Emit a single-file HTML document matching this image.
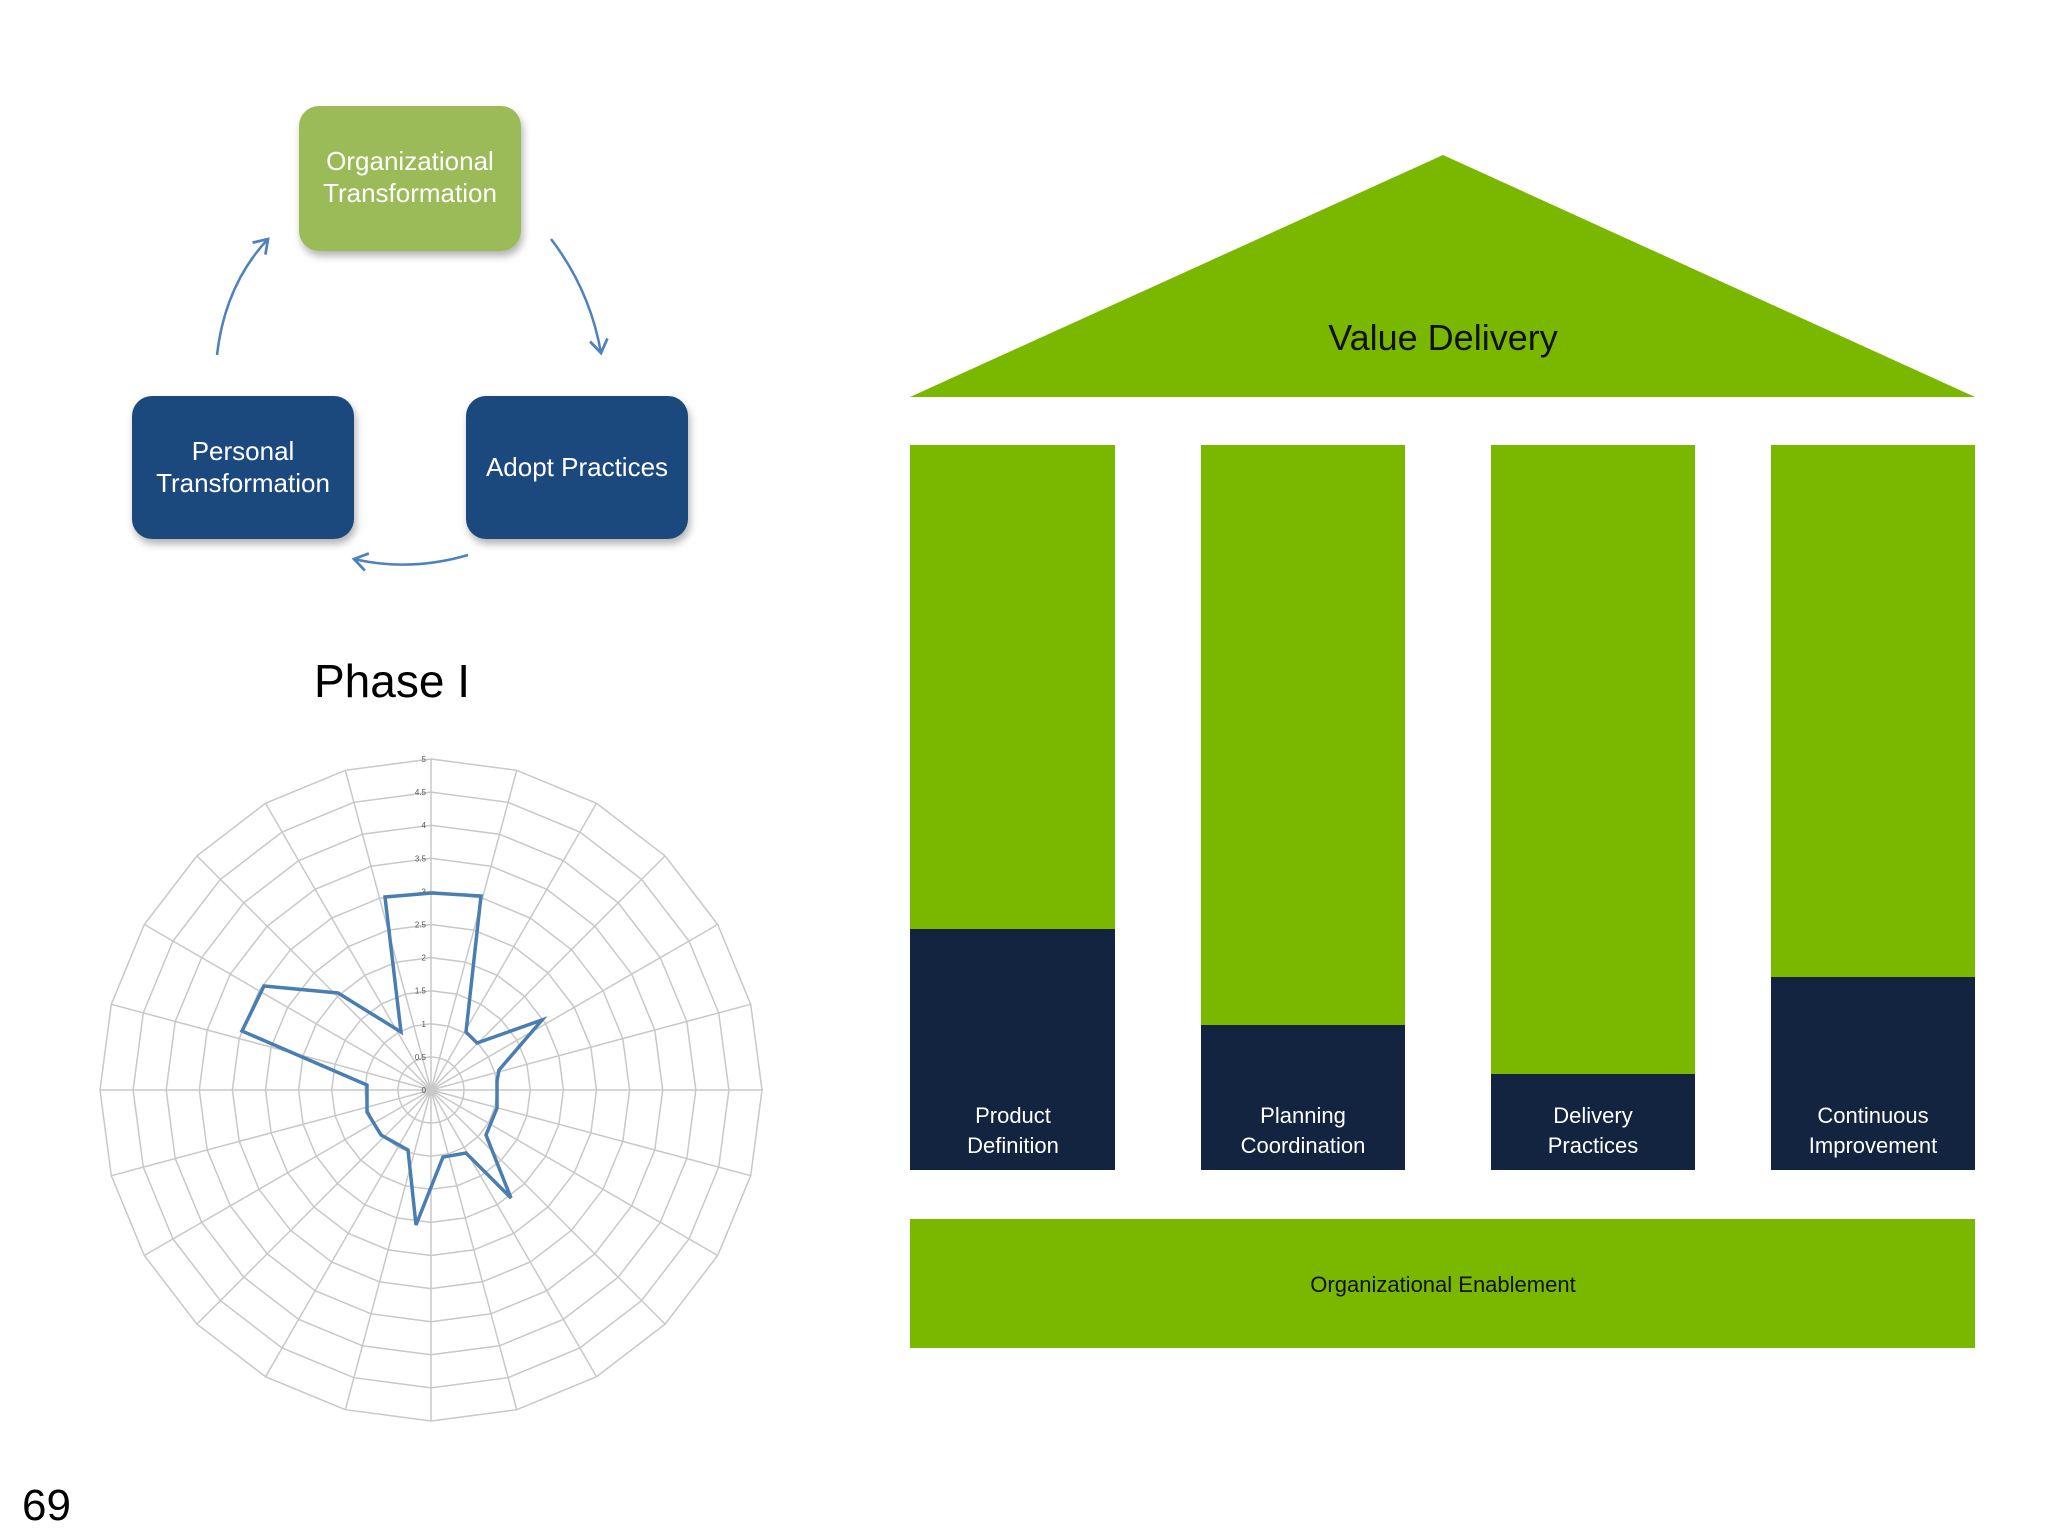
<!DOCTYPE html>
<html><head><meta charset="utf-8"><style>
html,body{margin:0;padding:0;background:#fff;}
body{width:2048px;height:1536px;position:relative;overflow:hidden;font-family:"Liberation Sans",sans-serif;}
</style></head><body>
<svg width="2048" height="1536" viewBox="0 0 2048 1536" xmlns="http://www.w3.org/2000/svg" style="position:absolute;left:0;top:0">
<defs>
<filter id="sh" x="-10%" y="-10%" width="130%" height="130%"><feDropShadow dx="2" dy="5" stdDeviation="4" flood-color="#000" flood-opacity="0.3"/></filter>
<marker id="ah" viewBox="0 0 20 20" refX="14" refY="10" markerWidth="22" markerHeight="22" markerUnits="userSpaceOnUse" orient="auto"><path d="M2,2 L14,10 L2,18" fill="none" stroke="#4f81bd" stroke-width="2.5"/></marker>
</defs>
<!-- cycle -->
<rect x="299" y="106" width="222" height="145" rx="20" fill="#9bbb59" filter="url(#sh)"/>
<text x="410" y="170" font-size="26" fill="#fff" text-anchor="middle">Organizational</text>
<text x="410" y="202" font-size="26" fill="#fff" text-anchor="middle">Transformation</text>
<rect x="132" y="396" width="222" height="143" rx="20" fill="#1f497d" filter="url(#sh)"/>
<text x="243" y="460" font-size="26" fill="#fff" text-anchor="middle">Personal</text>
<text x="243" y="492" font-size="26" fill="#fff" text-anchor="middle">Transformation</text>
<rect x="466" y="396" width="222" height="143" rx="20" fill="#1f497d" filter="url(#sh)"/>
<text x="577" y="476" font-size="26" fill="#fff" text-anchor="middle">Adopt  Practices</text>
<path d="M217,355 Q225,285 268,239" fill="none" stroke="#4f81bd" stroke-width="2.5" marker-end="url(#ah)"/>
<path d="M551,239 Q590,290 601,353" fill="none" stroke="#4f81bd" stroke-width="2.5" marker-end="url(#ah)"/>
<path d="M468,555 Q410,572 354,559" fill="none" stroke="#4f81bd" stroke-width="2.5" marker-end="url(#ah)"/>
<text x="392" y="697" font-size="46" fill="#000" text-anchor="middle">Phase I</text>
<!-- radar -->
<g id="radar" stroke="#c8c8c8" stroke-width="1.5" fill="none"></g>
<polygon points="432,893 481,896 466,1032 477,1043 542,1020 499,1070 497,1081 497,1108 486,1135 511,1198 466,1153 443,1157 416,1225 408,1150 381,1135 367,1112 367,1099 367,1085 242,1031 264,986 338,993 401,1032 385,897" fill="none" stroke="#4a7eb0" stroke-width="3.5" stroke-linejoin="miter"/>
<!-- temple -->
<polygon points="1443,155 1975,397 910,397" fill="#7ab800"/>
<text x="1443" y="350" font-size="36" fill="#111" text-anchor="middle">Value Delivery</text>
<rect x="910" y="445" width="205" height="725" fill="#7ab800"/>
<rect x="910" y="929" width="205" height="241" fill="#132440"/>
<rect x="1201" y="445" width="204" height="725" fill="#7ab800"/>
<rect x="1201" y="1025" width="204" height="145" fill="#132440"/>
<rect x="1491" y="445" width="204" height="725" fill="#7ab800"/>
<rect x="1491" y="1074" width="204" height="96" fill="#132440"/>
<rect x="1771" y="445" width="204" height="725" fill="#7ab800"/>
<rect x="1771" y="977" width="204" height="193" fill="#132440"/>
<g font-size="22" fill="#fff" text-anchor="middle">
<text x="1013" y="1123">Product</text><text x="1013" y="1153">Definition</text>
<text x="1303" y="1123">Planning</text><text x="1303" y="1153">Coordination</text>
<text x="1593" y="1123">Delivery</text><text x="1593" y="1153">Practices</text>
<text x="1873" y="1123">Continuous</text><text x="1873" y="1153">Improvement</text>
</g>
<rect x="910" y="1219" width="1065" height="129" fill="#7ab800"/>
<text x="1443" y="1292" font-size="22" fill="#111" text-anchor="middle">Organizational Enablement</text>
<text x="22" y="1520" font-size="44" fill="#000">69</text>
</svg>
<script>
(function(){
var g=document.getElementById('radar');var ns='http://www.w3.org/2000/svg';
var cx=431,cy=1090,R=331,N=24,s='';
for(var k=1;k<=10;k++){var r=R*k/10,p=[];for(var i=0;i<N;i++){var a=i*Math.PI*2/N;p.push((cx+r*Math.sin(a)).toFixed(1)+','+(cy-r*Math.cos(a)).toFixed(1));}
s+='<polygon points="'+p.join(' ')+'"/>';}
for(var i=0;i<N;i++){var a=i*Math.PI*2/N;s+='<line x1="'+cx+'" y1="'+cy+'" x2="'+(cx+R*Math.sin(a)).toFixed(1)+'" y2="'+(cy-R*Math.cos(a)).toFixed(1)+'"/>';}
var labs=['0','0.5','1','1.5','2','2.5','3','3.5','4','4.5','5'];
for(var k=0;k<=10;k++){s+='<text x="'+(cx-5)+'" y="'+(cy-R*k/10+3)+'" font-size="8" fill="#555" stroke="none" text-anchor="end">'+labs[k]+'</text>';}
g.innerHTML=s;
})();
</script>
</body></html>
